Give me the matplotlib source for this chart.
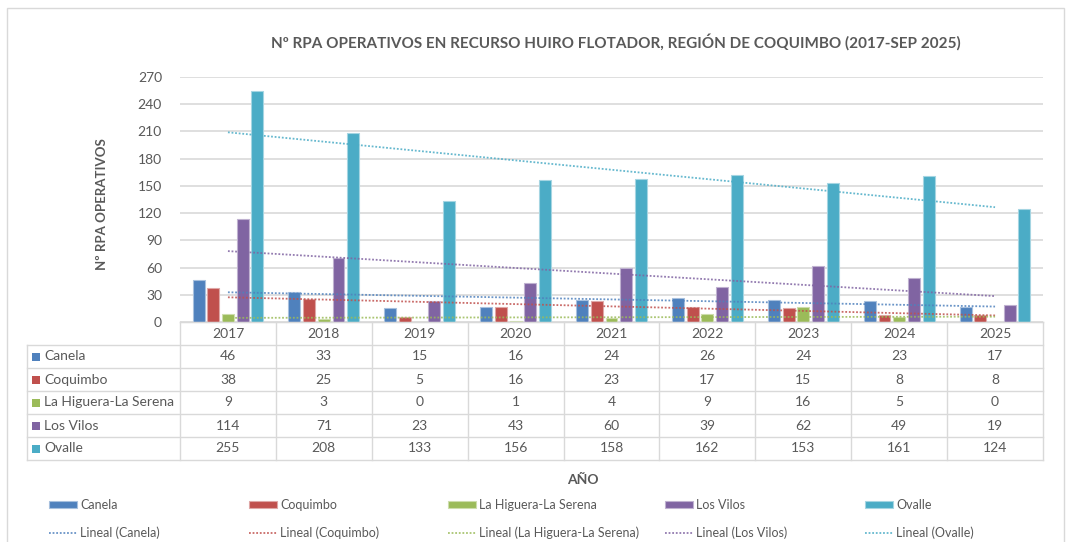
import numpy as np
import matplotlib
matplotlib.use('Agg')
from matplotlib import pyplot as plt
from matplotlib import transforms
from matplotlib.lines import Line2D
from matplotlib.patches import Rectangle

years = ['2017', '2018', '2019', '2020', '2021', '2022', '2023', '2024', '2025']
series_names = ['Canela', 'Coquimbo', 'La Higuera-La Serena', 'Los Vilos', 'Ovalle']
canela = [46, 33, 15, 16, 24, 26, 24, 23, 17]
coquimbo = [38, 25, 5, 16, 23, 17, 15, 8, 8]
la_higuera = [9, 3, 0, 1, 4, 9, 16, 5, 0]
los_vilos = [114, 71, 23, 43, 60, 39, 62, 49, 19]
ovalle = [255, 208, 133, 156, 158, 162, 153, 161, 124]
all_series = [canela, coquimbo, la_higuera, los_vilos, ovalle]

colors = ['#4F81BD', '#C0504D', '#9BBB59', '#8064A2', '#4BACC6']
edge_colors = ['#A7C0DE', '#DFA7A6', '#CDDDAC', '#BFB1D0', '#A5D5E2']
text_gray = '#595959'
line_gray = '#D9D9D9'

plt.rcParams['font.family'] = ['Lato', 'DejaVu Sans']

W, H = 1068, 542
def fx(x):
    return x / W
def fy(y):
    return 1 - y / H

fig = plt.figure(figsize=(W / 100, H / 100), dpi=100)

# chart border
fig.add_artist(Rectangle((fx(7), fy(560)), fx(1057), 552 / H, transform=fig.transFigure,
                         fill=False, edgecolor=line_gray, lw=1))

ax = fig.add_axes([fx(180), fy(322), fx(1043 - 180), 245 / H])

x = np.arange(len(years))
bar_step = 0.153
bar_width = 0.125
bars = []
trends = []
for i, (name, vals) in enumerate(zip(series_names, all_series)):
    b = ax.bar(x + (i - 2) * bar_step, vals, width=bar_width, color=colors[i],
               edgecolor=edge_colors[i], linewidth=0.8, label=name, zorder=2)
    bars.append(b)
    slope, intercept = np.polyfit(x + 1, vals, 1)
    ln, = ax.plot(x, slope * (x + 1) + intercept, linestyle=(0, (1, 1)), lw=1.3,
                  color=colors[i], alpha=0.85, label=f'Lineal ({name})', zorder=3)
    trends.append(ln)

ax.set_xlim(-0.5, len(years) - 0.5)
ax.set_ylim(0, 270)
ax.set_yticks(range(0, 271, 30))
ax.set_xticks([])
ax.tick_params(axis='y', length=0, pad=13, labelsize=10, labelcolor=text_gray)
ax.grid(axis='y', color=line_gray, lw=1.2, zorder=0)
ax.set_axisbelow(True)
for side in ['top', 'right', 'left']:
    ax.spines[side].set_visible(False)
ax.spines['bottom'].set_color(line_gray)

ax.set_ylabel('Nº RPA OPERATIVOS', fontsize=9.5, fontweight='bold', color=text_gray, labelpad=0)
ax.yaxis.set_label_coords(fx(108 - 180) / fx(863), 0.48)

fig.text(fx(616), fy(42), 'Nº RPA OPERATIVOS EN RECURSO HUIRO FLOTADOR, REGIÓN DE COQUIMBO (2017-SEP 2025)',
         ha='center', va='center', fontsize=11, fontweight='bold', color=text_gray)

# data table under the axis
trans = transforms.blended_transform_factory(ax.transData, fig.transFigure)
row_edges = [322, 345, 368, 391, 414, 437, 460]
for k in range(len(years) + 1):
    fig.add_artist(Line2D([k - 0.5, k - 0.5], [fy(322), fy(460)], transform=trans, color=line_gray, lw=1))
fig.add_artist(Line2D([fx(27), fx(27)], [fy(345), fy(460)], transform=fig.transFigure, color=line_gray, lw=1))
for j, y in enumerate(row_edges):
    x0 = 180 if j == 0 else 27
    fig.add_artist(Line2D([fx(x0), fx(1043)], [fy(y), fy(y)], transform=fig.transFigure, color=line_gray, lw=1))

for k, yr in enumerate(years):
    fig.text(k, fy(334), yr, transform=trans, ha='center', va='center', fontsize=10, color=text_gray)
for j, (name, vals) in enumerate(zip(series_names, all_series)):
    yc = fy((row_edges[j + 1] + row_edges[j + 2]) / 2)
    fig.add_artist(Rectangle((fx(32), yc - 4 / H), fx(8), 8 / H, transform=fig.transFigure,
                             facecolor=colors[j], edgecolor='none'))
    fig.text(fx(44), yc, name, ha='left', va='center', fontsize=10, color=text_gray)
    for k, v in enumerate(vals):
        fig.text(k, yc, str(v), transform=trans, ha='center', va='center', fontsize=10, color=text_gray)

fig.text(fx(583), fy(480), 'AÑO', ha='center', va='center', fontsize=10, fontweight='bold', color=text_gray)

# legend: one small block per series (bar on top, trend line below)
legend_x = [49, 249, 448, 665, 865]
for i, name in enumerate(series_names):
    fig.legend(handles=[bars[i], trends[i]], labels=[name, f'Lineal ({name})'],
               loc='upper left', bbox_to_anchor=(fx(legend_x[i]), fy(499)),
               frameon=False, fontsize=9, labelcolor=text_gray, handlelength=2.2,
               handleheight=0.55, handletextpad=0.3, borderpad=0, borderaxespad=0,
               labelspacing=1.25)

plt.savefig('out.png', dpi=100)
